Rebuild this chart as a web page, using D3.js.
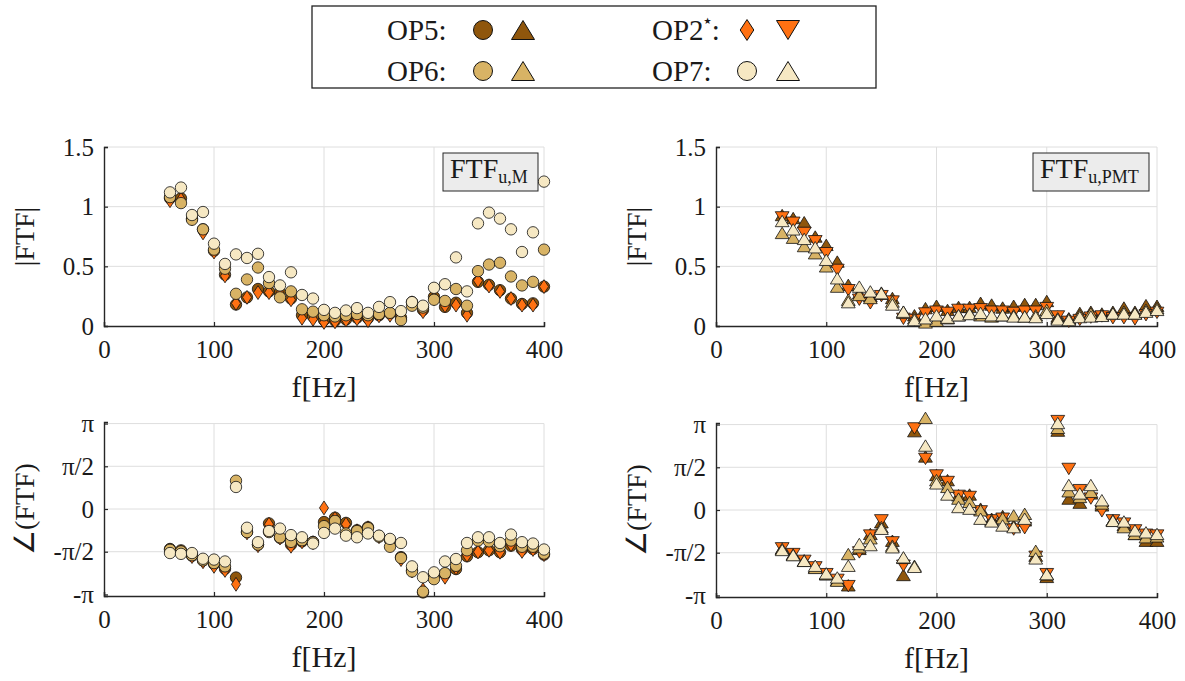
<!DOCTYPE html>
<html>
<head>
<meta charset="utf-8">
<script src="https://cdn.jsdelivr.net/npm/d3@7"></script>
<style>
  html, body { margin: 0; padding: 0; background: #fff; }
  svg { display: block; }
  text { font-family: "Liberation Serif", "Times New Roman", serif; fill: #1a1a1a; }
</style>
</head>
<body>
<svg id="chart" width="1185" height="681"></svg>
<script>
// Excitation frequencies [Hz]
const freq = [60, 70, 80, 90, 100, 110, 120, 130, 140, 150, 160, 170, 180, 190, 200, 210, 220, 230, 240, 250,
              260, 270, 280, 290, 300, 310, 320, 330, 340, 350, 360, 370, 380, 390, 400];

// |FTF_u,M|
const magM_OP5 = [1.07, 1.07, 0.90, 0.81, 0.63, 0.43, 0.18, 0.24, 0.31, 0.29, 0.28, 0.23, 0.09, 0.08, 0.05, 0.045, 0.055, 0.07, 0.065, 0.09,
                  0.105, 0.07, 0.20, 0.135, 0.245, 0.16, 0.195, 0.11, 0.37, 0.345, 0.30, 0.23, 0.185, 0.19, 0.33];
const magM_OP6 = [1.08, 1.03, 0.89, 0.81, 0.64, 0.48, 0.27, 0.39, 0.49, 0.36, 0.24, 0.29, 0.14, 0.12, 0.09, 0.08, 0.09, 0.10, 0.09, 0.10,
                  0.11, 0.05, 0.17, 0.155, 0.22, 0.21, 0.31, 0.17, 0.46, 0.515, 0.53, 0.415, 0.34, 0.37, 0.64];
const magM_OP7 = [1.12, 1.16, 0.93, 0.955, 0.69, 0.52, 0.60, 0.57, 0.605, 0.41, 0.34, 0.45, 0.26, 0.23, 0.135, 0.11, 0.13, 0.15, 0.11, 0.16,
                  0.20, 0.125, 0.20, 0.17, 0.32, 0.35, 0.575, 0.29, 0.86, 0.95, 0.90, 0.81, 0.62, 0.785, 1.21];
const magM_OP2 = [1.05, 1.06, 0.90, 0.78, 0.62, 0.42, 0.19, 0.24, 0.28, 0.28, 0.27, 0.22, 0.065, 0.056, 0.03, 0.035, 0.05, 0.06, 0.045, 0.085,
                  0.09, 0.065, 0.195, 0.12, 0.23, 0.17, 0.175, 0.09, 0.38, 0.335, 0.29, 0.23, 0.175, 0.175, 0.33];

// |FTF_u,PMT|
const magP_OP5 = [0.93, 0.905, 0.87, 0.75, 0.68, 0.54, 0.345, 0.275, 0.25, 0.28, 0.235, 0.12, 0.09, 0.15, 0.17, 0.135, 0.16, 0.16, 0.195, 0.18,
                  0.155, 0.17, 0.185, 0.185, 0.21, 0.08, 0.065, 0.11, 0.12, 0.105, 0.12, 0.155, 0.12, 0.175, 0.17];
const magP_OP6 = [0.78, 0.74, 0.67, 0.61, 0.50, 0.33, 0.22, 0.26, 0.235, 0.27, 0.205, 0.11, 0.065, 0.03, 0.045, 0.065, 0.09, 0.105, 0.09, 0.08,
                  0.09, 0.09, 0.08, 0.09, 0.135, 0.065, 0.06, 0.09, 0.105, 0.09, 0.105, 0.12, 0.105, 0.135, 0.15];
const magP_OP7 = [0.88, 0.81, 0.73, 0.66, 0.555, 0.40, 0.20, 0.33, 0.29, 0.275, 0.18, 0.12, 0.05, 0.065, 0.09, 0.07, 0.09, 0.10, 0.11, 0.09,
                  0.09, 0.08, 0.08, 0.075, 0.11, 0.055, 0.05, 0.075, 0.08, 0.085, 0.105, 0.105, 0.105, 0.12, 0.135];
const magP_OP2 = [0.91, 0.865, 0.78, 0.71, 0.61, 0.47, 0.30, 0.22, 0.19, 0.25, 0.205, 0.06, 0.05, 0.105, 0.12, 0.11, 0.135, 0.135, 0.14, 0.12,
                  0.12, 0.11, 0.12, 0.12, 0.15, 0.08, 0.035, 0.05, 0.07, 0.08, 0.065, 0.065, 0.055, 0.09, 0.11];

// angle(FTF_u,M) [rad]
const phM_OP5 = [-1.47, -1.52, -1.72, -1.89, -2.02, -2.20, -2.52, -0.85, -1.31, -0.53, -1.06, -1.31, -1.19, -1.21, -0.48, -0.32, -0.51, -0.78, -0.67, -1.00,
                 -1.15, -1.77, -2.26, -3.07, -2.44, -2.38, -2.21, -1.74, -1.59, -1.52, -1.59, -1.35, -1.49, -1.47, -1.68];
const phM_OP6 = [-1.50, -1.56, -1.70, -1.89, -1.99, -2.11, 1.04, -0.85, -1.31, -0.85, -1.04, -1.21, -1.15, -1.22, -0.63, -0.44, -0.90, -0.81, -0.70, -1.02,
                 -1.39, -1.80, -2.30, -3.04, -2.58, -2.36, -2.09, -1.52, -1.16, -1.19, -1.37, -1.16, -1.39, -1.39, -1.64];
const phM_OP7 = [-1.62, -1.65, -1.62, -1.83, -1.86, -1.93, 0.81, -0.69, -1.22, -0.81, -0.72, -0.96, -1.04, -1.27, -0.88, -0.72, -0.98, -1.04, -0.90, -0.98,
                 -1.10, -1.25, -2.11, -2.51, -2.33, -1.93, -1.84, -1.25, -1.04, -1.04, -1.25, -0.94, -1.22, -1.27, -1.49];
const phM_OP2 = [-1.53, -1.58, -1.75, -1.94, -2.11, -2.26, -2.77, -0.88, -1.35, -0.56, -1.07, -1.37, -1.21, -1.24, 0.04, -0.35, -0.56, -0.80, -0.69, -1.02,
                 -1.19, -1.86, -2.28, -2.97, -2.48, -2.51, -2.17, -1.70, -1.58, -1.52, -1.59, -1.31, -1.56, -1.49, -1.68];

// angle(FTF_u,PMT) [rad]
const phP_OP5 = [-1.41, -1.62, -1.85, -2.11, -2.36, -2.57, -2.77, -1.43, -0.88, -0.45, -1.13, -2.39, 2.90, 1.97, 1.29, 1.10, 0.54, 0.57, 0.05, -0.32,
                 -0.22, -0.57, -0.38, -1.68, -2.46, 2.92, 0.42, 0.27, 0.61, 0.17, -0.38, -0.55, -0.88, -1.13, -1.13];
const phP_OP6 = [-1.43, -1.64, -1.87, -2.13, -2.36, -2.60, -1.62, -1.37, -1.04, -0.63, -1.31, -1.76, -2.05, 3.39, 1.10, 0.85, 0.42, 0.30, -0.01, -0.38,
                 -0.30, -0.20, -0.14, -1.50, -2.36, 3.02, 0.69, 0.48, 0.67, 0.24, -0.38, -0.63, -0.88, -1.00, -0.97];
const phP_OP7 = [-1.47, -1.66, -1.87, -2.05, -2.33, -2.48, -2.05, -1.25, -1.29, -0.69, -1.37, -1.74, -2.09, 2.37, 0.98, 0.57, 0.11, 0.05, -0.32, -0.42,
                 -0.57, -0.63, -0.32, -1.78, -2.36, 3.20, 0.92, 0.61, 0.92, 0.36, -0.40, -0.42, -0.75, -0.82, -0.88];
const phP_OP2 = [-1.41, -1.62, -1.87, -2.11, -2.36, -2.57, -2.80, -1.56, -0.94, -0.38, -1.19, -2.05, 3.00, 1.88, 1.27, 1.03, 0.52, 0.48, -0.05, -0.38,
                 -0.32, -0.72, -0.67, -1.72, -2.36, 3.27, 1.51, 0.73, 0.42, -0.05, -0.38, -0.50, -0.75, -0.91, -0.94];

// Axis ticks
const xTicks = [0, 100, 200, 300, 400];
const magTicks = [0, 0.5, 1, 1.5];
const magTickLabels = ["0", "0.5", "1", "1.5"];
const phTicks = [-Math.PI, -Math.PI / 2, 0, Math.PI / 2, Math.PI];
const phTickLabels = ["-π", "-π/2", "0", "π/2", "π"];

// Operating point colours
const colors = { OP5: "#8f560c", OP6: "#d8b365", OP7: "#f6e8c3", OP2: "#ff7112" };

const FONT = "'Liberation Serif', 'Times New Roman', serif";
const svg = d3.select("#chart").style("font-family", FONT);

// Marker shapes, centred on (0,0)
function markerPath(shape, s) {
  switch (shape) {
    case "circle": {
      const p = d3.path(); p.arc(0, 0, s, 0, 2 * Math.PI); return p.toString();
    }
    case "up": {
      const w = s * 1.15, h = s * 0.95;
      return `M${-w},${h}L${w},${h}L0,${-h}Z`;
    }
    case "down": {
      const w = s * 1.15, h = s * 0.95;
      return `M${-w},${-h}L${w},${-h}L0,${h}Z`;
    }
    case "diamond": {
      const w = s * 0.72, h = s * 1.1;
      return `M0,${-h}L${w},0L0,${h}L${-w},0Z`;
    }
  }
}

// Panel layout
const panels = [
  { x0: 104, x1: 544, y0: 326, y1: 147, dom: [0, 1.5], ticks: magTicks, labels: magTickLabels, ylabel: "|FTF|",
    title: ["FTF", "u,M"], box: [443, 153, 95, 38], shapes: ["circle", "diamond"],
    series: [["OP5", magM_OP5], ["OP2", magM_OP2], ["OP6", magM_OP6], ["OP7", magM_OP7]] },
  { x0: 716, x1: 1157, y0: 326, y1: 147, dom: [0, 1.5], ticks: magTicks, labels: magTickLabels, ylabel: "|FTF|",
    title: ["FTF", "u,PMT"], box: [1033, 153, 116, 38], shapes: ["up", "down"],
    series: [["OP5", magP_OP5], ["OP2", magP_OP2], ["OP6", magP_OP6], ["OP7", magP_OP7]] },
  { x0: 104, x1: 544, y0: 596, y1: 422, dom: [-3.2, 3.2], ticks: phTicks, labels: phTickLabels, ylabel: "∠(FTF)",
    shapes: ["circle", "diamond"],
    series: [["OP5", phM_OP5], ["OP2", phM_OP2], ["OP6", phM_OP6], ["OP7", phM_OP7]] },
  { x0: 716, x1: 1157, y0: 597, y1: 423, dom: [-3.2, 3.2], ticks: phTicks, labels: phTickLabels, ylabel: "∠(FTF)",
    shapes: ["up", "down"],
    series: [["OP5", phP_OP5], ["OP2", phP_OP2], ["OP6", phP_OP6], ["OP7", phP_OP7]] }
];

panels.forEach(p => {
  const x = d3.scaleLinear().domain([0, 400]).range([p.x0, p.x1]);
  const y = d3.scaleLinear().domain(p.dom).range([p.y0, p.y1]);
  const g = svg.append("g");

  // grid
  g.append("g").selectAll("line").data(xTicks.slice(1)).join("line")
    .attr("x1", d => x(d)).attr("x2", d => x(d)).attr("y1", p.y0).attr("y2", y(p.ticks[p.ticks.length - 1]))
    .attr("stroke", "#dedede").attr("stroke-width", 1);
  g.append("g").selectAll("line").data(p.ticks.slice(1)).join("line")
    .attr("x1", p.x0).attr("x2", p.x1).attr("y1", d => y(d)).attr("y2", d => y(d))
    .attr("stroke", "#dedede").attr("stroke-width", 1);

  // axes
  const xa = g.append("g").attr("transform", `translate(0,${p.y0})`)
    .call(d3.axisBottom(x).tickValues(xTicks).tickSize(-4).tickPadding(10).tickFormat(d3.format("d")));
  const ya = g.append("g").attr("transform", `translate(${p.x0},0)`)
    .call(d3.axisLeft(y).tickValues(p.ticks).tickSize(-4).tickPadding(10).tickFormat((d, i) => p.labels[i]));
  [xa, ya].forEach(a => {
    a.attr("font-family", null);
    a.select(".domain").attr("stroke", "#262626").attr("stroke-width", 1.4);
    a.selectAll(".tick line").attr("stroke", "#262626").attr("stroke-width", 1.2);
    a.selectAll(".tick text").style("font-family", FONT).attr("font-size", 25).attr("fill", "#1a1a1a");
  });
  xa.selectAll(".tick text").attr("dy", "0.86em");

  // axis labels
  g.append("text").attr("x", (p.x0 + p.x1) / 2).attr("y", p.y0 + 71)
    .attr("text-anchor", "middle").attr("font-size", 30).text("f[Hz]");
  g.append("text").attr("transform", `translate(${p.x0 - 70},${(p.y0 + p.y1) / 2}) rotate(-90)`)
    .attr("text-anchor", "middle").attr("font-size", 28).text(p.ylabel);

  // markers
  p.series.forEach(([op, vals]) => {
    const shape = op === "OP2" ? p.shapes[1] : p.shapes[0];
    const size = shape === "circle" ? 5.7 : (shape === "diamond" ? 6.3 : 6.0);
    g.append("g").selectAll("path").data(vals).join("path")
      .attr("transform", (d, i) => `translate(${x(freq[i])},${y(d)})`)
      .attr("d", markerPath(shape, size))
      .attr("fill", colors[op]).attr("stroke", "#111").attr("stroke-width", 0.8);
  });

  // title box
  if (p.title) {
    const [bx, by, bw, bh] = p.box;
    g.append("rect").attr("x", bx).attr("y", by).attr("width", bw).attr("height", bh)
      .attr("fill", "#ececec").attr("stroke", "#262626").attr("stroke-width", 1);
    const t = g.append("text").attr("x", bx + 7).attr("y", by + 25).attr("font-size", 28);
    t.append("tspan").text(p.title[0]);
    t.append("tspan").attr("font-size", 18).attr("dy", 5).text(p.title[1]);
  }
});

// Legend
const leg = svg.append("g");
leg.append("rect").attr("x", 312).attr("y", 6).attr("width", 564).attr("height", 82)
  .attr("fill", "#fff").attr("stroke", "#222").attr("stroke-width", 1.3);
const legendRows = [
  { label: "OP5", star: false, x: 387, y: 30, items: [["circle", "OP5", 483], ["up", "OP5", 523]] },
  { label: "OP6", star: false, x: 387, y: 71, items: [["circle", "OP6", 483], ["up", "OP6", 523]] },
  { label: "OP2", star: true, x: 652, y: 30, items: [["diamond", "OP2", 747], ["down", "OP2", 788]] },
  { label: "OP7", star: false, x: 652, y: 71, items: [["circle", "OP7", 747], ["up", "OP7", 788]] }
];
legendRows.forEach(r => {
  const t = leg.append("text").attr("x", r.x).attr("y", r.y + 10).attr("font-size", 29);
  t.append("tspan").text(r.label);
  if (r.star) {
    t.append("tspan").style("font-family", "'DejaVu Sans'").attr("font-size", 9).attr("dy", -16).text("★");
    t.append("tspan").attr("dy", 16).text(":");
  } else {
    t.append("tspan").text(":");
  }
  r.items.forEach(([shape, op, cx]) => {
    const size = shape === "circle" ? 9.5 : (shape === "diamond" ? 9.5 : 10);
    leg.append("path").attr("transform", `translate(${cx},${r.y})`)
      .attr("d", markerPath(shape, size))
      .attr("fill", colors[op]).attr("stroke", "#111").attr("stroke-width", 1);
  });
});
</script>
</body>
</html>
